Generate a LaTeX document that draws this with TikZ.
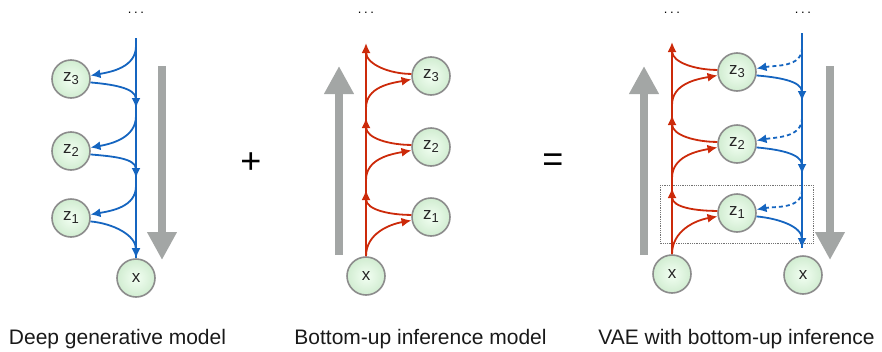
\documentclass[tikz,border=0pt]{standalone}
\usepackage{fontspec}
\setmainfont{Liberation Sans}
\usetikzlibrary{arrows.meta}
\definecolor{bl}{HTML}{1565C0}
\definecolor{rd}{HTML}{CC2A0A}
\definecolor{gr}{HTML}{A3A6A5}
\definecolor{nb}{HTML}{8C8C8C}
\tikzset{
  var/.style={circle,minimum size=38pt,inner sep=0pt,draw=nb,line width=1.6pt,
    inner color=white!60!green!12, outer color=green!60!black!18!white,
    text=black!85,font=\fontsize{17}{17}\selectfont},
  tipa/.style={-{Latex[length=10pt,width=9pt]}},
  bline/.style={draw=bl,line width=1.8pt},
  rline/.style={draw=rd,line width=1.8pt},
  dline/.style={draw=bl,line width=1.8pt,dash pattern=on 4pt off 3pt},
  big/.style={draw=gr,line width=8pt,-{Triangle[length=28pt,width=28pt]}},
  captxt/.style={anchor=base,font=\fontsize{21}{21}\selectfont,text=black!90},
  dotsn/.style={anchor=base,inner sep=0pt,text height=3pt,text depth=0pt,font=\fontsize{13}{13}\selectfont},
  opn/.style={font=\fontsize{36}{36}\selectfont}
}
\newcommand{\zz}[1]{z{\fontsize{13}{13}\selectfont\raisebox{-3pt}{#1}}}
\newcommand{\tdots}{.\hspace{2.6pt}.\hspace{2.6pt}.}
\begin{document}
\begin{tikzpicture}[x=1pt,y=-1pt]
\useasboundingbox (0,0) rectangle (882,351);
% ---------- left: deep generative model
\node[var] (a3) at (71,79) {\zz{3}};
\node[var] (a2) at (71,151) {\zz{2}};
\node[var] (a1) at (71,218) {\zz{1}};
\node[var] (ax) at (136,278) {x};
\node[dotsn] (ad) at (136,13) {\tdots};
\coordinate (at) at (136,38);
\draw[bline] (at) -- (ax.north);
\draw[bline,tipa] (136,46) to[out=-90,in=10] (a3.10);
\draw[bline,tipa] (a3.-10) to[out=-5,in=90] (136,108);
\draw[bline,tipa] (136,116) to[out=-90,in=10] (a2.10);
\draw[bline,tipa] (a2.-10) to[out=-5,in=90] (136,178);
\draw[bline,tipa] (136,186) to[out=-90,in=10] (a1.10);
\draw[bline,tipa] (a1.-10) to[out=-5,in=90] (ax.north);
\draw[big] (162,66) -- (162,260);
\node[captxt] (ac) at (117.5,344) {Deep generative model};
\node[opn] (plus) at (251,163) {+};
% ---------- middle: bottom-up inference
\node[var] (b3) at (431,76) {\zz{3}};
\node[var] (b2) at (431,147) {\zz{2}};
\node[var] (b1) at (431,217) {\zz{1}};
\node[var] (bx) at (366,276) {x};
\node[dotsn] (bd) at (366,13) {\tdots};
\draw[rline] (bx.north) -- (366,50);
\draw[rline,tipa] (bx.north) to[out=90,in=190] (b1.190);
\draw[rline,tipa] (b1.174) to[out=180,in=-90] (366,190);
\draw[rline,tipa] (366,180) to[out=90,in=190] (b2.190);
\draw[rline,tipa] (b2.174) to[out=180,in=-90] (366,118);
\draw[rline,tipa] (366,108) to[out=90,in=190] (b3.190);
\draw[rline,tipa] (b3.174) to[out=180,in=-90] (366,43);
\draw[big] (339,255) -- (339,66);
\node[captxt] (bc) at (420.5,344) {Bottom-up inference model};
\node[opn] (eq) at (553,163) {=};
% ---------- right: VAE with bottom-up inference
\draw[densely dotted,draw=black!55,line width=0.8pt] (660,185) rectangle (813,243);
\node[var] (c3) at (737,72) {\zz{3}};
\node[var] (c2) at (737,144) {\zz{2}};
\node[var] (c1) at (737,213) {\zz{1}};
\node[var] (cx) at (672,274) {x};
\node[var] (cy) at (803,275) {x};
\node[dotsn] (cd1) at (672,13) {\tdots};
\node[dotsn] (cd2) at (803,13) {\tdots};
\draw[rline] (cx.north) -- (672,50);
\draw[rline,tipa] (cx.north) to[out=90,in=190] (c1.190);
\draw[rline,tipa] (c1.174) to[out=180,in=-90] (672,188);
\draw[rline,tipa] (672,178) to[out=90,in=190] (c2.190);
\draw[rline,tipa] (c2.174) to[out=180,in=-90] (672,115);
\draw[rline,tipa] (672,105) to[out=90,in=190] (c3.190);
\draw[rline,tipa] (c3.174) to[out=180,in=-90] (672,42);
\coordinate (ct) at (802,33);
\coordinate (cb) at (802,248);
\draw[bline] (ct) -- (cb);
\draw[dline,tipa] (802,48) to[out=-90,in=10] (c3.10);
\draw[bline,tipa] (c3.-10) to[out=-5,in=90] (802,101);
\draw[dline,tipa] (802,118) to[out=-90,in=10] (c2.10);
\draw[bline,tipa] (c2.-10) to[out=-5,in=90] (802,174);
\draw[dline,tipa] (802,190) to[out=-90,in=10] (c1.10);
\draw[bline,tipa] (c1.-10) to[out=-5,in=90] (cb);
\draw[big] (644,255) -- (644,66);
\draw[big] (830,66) -- (830,260);
\node[captxt] (cc) at (736.5,344) {VAE with bottom-up inference};
\end{tikzpicture}
\end{document}
